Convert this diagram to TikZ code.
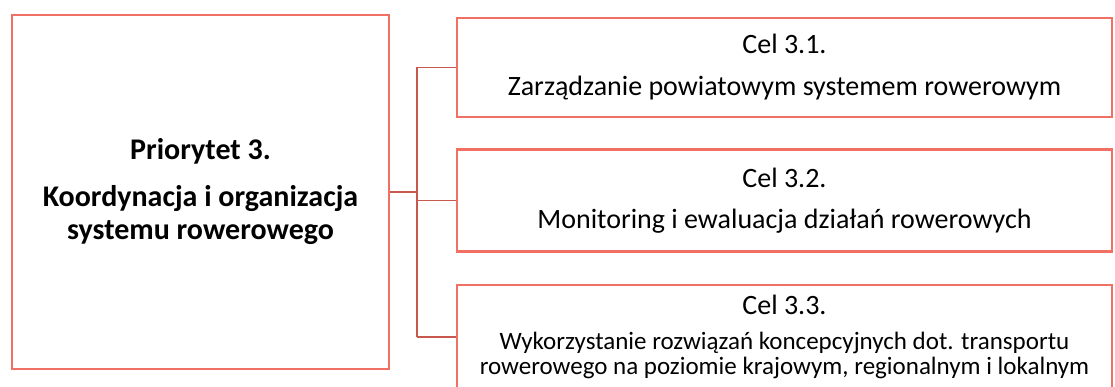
\documentclass[tikz,border=0pt]{standalone}
\usepackage{fontspec}
\setmainfont{Carlito}
\usepackage{tikz}
\usetikzlibrary{positioning}

\definecolor{boxred}{RGB}{240,112,100}
\definecolor{linkred}{RGB}{198,88,78}

\newcommand{\smalltxt}{\fontsize{25}{26}\selectfont}

\begin{document}
\begin{tikzpicture}[x=1pt, y=-1pt,
                prio/.style={draw=boxred, line width=2.4pt, rectangle, minimum width=377pt, minimum height=354pt, align=center, font=\fontsize{30}{33}\selectfont\bfseries},
                cel/.style={draw=boxred, line width=2.4pt, rectangle, minimum width=655pt, align=center, font=\fontsize{28}{30}\selectfont},
                link/.style={draw=linkred, line width=1.6pt}
            ]
            \useasboundingbox (0,0) rectangle (1115,387);
            \clip (0,0) rectangle (1115,387);

            % Knoten
            \node[prio] (P3) at (200.5,192) {Priorytet 3.\\[14pt]Koordynacja i organizacja\\systemu rowerowego};
            \node[cel, minimum height=99pt] (C31) at (784.5,67.5) {Cel 3.1.\\[12pt]Zarządzanie powiatowym systemem rowerowym};
            \node[cel, minimum height=102pt, below=30pt of C31] (C32) {Cel 3.2.\\[11pt]Monitoring i ewaluacja działań rowerowych};
            \node[cel, minimum height=104pt, below=31pt of C32] (C33) {Cel 3.3.\\[5pt]\smalltxt Wykorzystanie rozwiązań koncepcyjnych dot. transportu\\[-5pt]\smalltxt rowerowego na poziomie krajowym, regionalnym i lokalnym};

            % Kanten zwischen Knoten
            \coordinate[right=27pt of P3.east] (hub);
            \draw[link] (P3.east) -- (hub);
            \draw[link] (hub |- C31.west) -- (hub |- C33.west);
            \foreach \c in {C31, C32, C33}
                \draw[link] (hub |- \c.west) -- (\c.west);

        \end{tikzpicture}
\end{document}
